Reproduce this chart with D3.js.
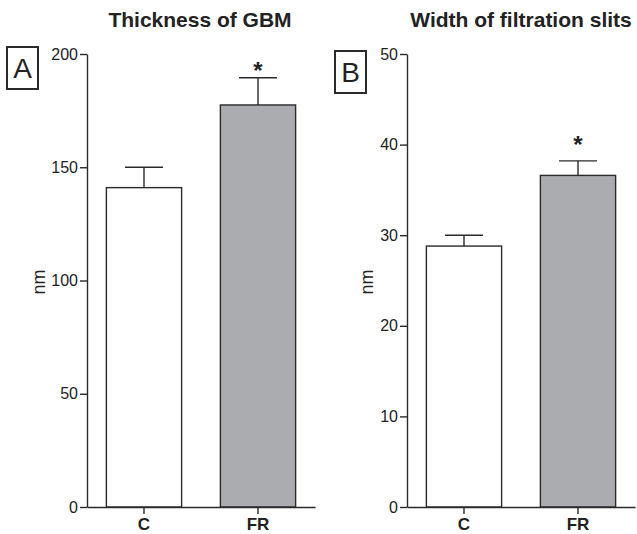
<!DOCTYPE html>
<html lang="en">
<head>
<meta charset="UTF-8">
<title>GBM and filtration slits</title>
<script src="https://cdnjs.cloudflare.com/ajax/libs/d3/7.9.0/d3.min.js"></script>
<style>
  body { margin: 0; background: #fff; }
  svg text { font-family: "Liberation Sans", Arial, Helvetica, sans-serif; fill: #222; }
</style>
</head>
<body>
<svg id="chart" width="637" height="534"></svg>
<script>
// data
const groups = ["C", "FR"];
const gbmMean = [141, 177.5];
const gbmSem = [9, 12];
const gbmTicks = [0, 50, 100, 150, 200];
const slitMean = [28.8, 36.6];
const slitSem = [1.2, 1.6];
const slitTicks = [0, 10, 20, 30, 40, 50];
const sig = [false, true];

const svg = d3.select("#chart");
const ink = "#2a2a2a";
const fills = ["#ffffff", "#abacb0"];

function panel(opt) {
  const g = svg.append("g");
  const y = d3.scaleLinear().domain([0, opt.max]).range([507, 54]);
  const x = d3.scaleBand().domain(groups).range([opt.x0, opt.x0 + 228])
    .paddingInner(0.34).paddingOuter(0.17);

  // title
  g.append("text").attr("x", opt.titleX).attr("y", 27)
    .attr("text-anchor", "middle").attr("font-size", 21).attr("font-weight", "bold")
    .text(opt.title);

  // panel letter box
  g.append("rect").attr("x", opt.boxX).attr("y", opt.boxY).attr("width", 31).attr("height", 42)
    .attr("fill", "none").attr("stroke", ink).attr("stroke-width", 2);
  g.append("text").attr("x", opt.boxX + 15.5).attr("y", opt.boxY + 31)
    .attr("text-anchor", "middle").attr("font-size", 28).text(opt.letter);

  // y axis
  const ya = g.append("g").attr("transform", `translate(${opt.x0},0)`)
    .call(d3.axisLeft(y).tickValues(opt.ticks).tickSize(7).tickPadding(2).tickSizeOuter(0));
  ya.select(".domain").attr("stroke", ink).attr("stroke-width", 1.4);
  ya.selectAll(".tick line").attr("stroke", ink).attr("stroke-width", 1.4);
  ya.selectAll(".tick text").attr("font-size", 16).attr("fill", ink)
    .style("font-family", "'Liberation Sans', Arial, sans-serif");

  // y label
  g.append("text").attr("transform", `translate(${opt.nmX},282) rotate(-90)`)
    .attr("text-anchor", "middle").attr("font-size", 18).text("nm");

  // bars
  g.selectAll("rect.bar").data(groups).enter().append("rect").attr("class", "bar")
    .attr("x", d => x(d)).attr("width", x.bandwidth())
    .attr("y", (d, i) => y(opt.mean[i]))
    .attr("height", (d, i) => y(0) - y(opt.mean[i]))
    .attr("fill", (d, i) => fills[i]).attr("stroke", ink).attr("stroke-width", 1.4);

  // error bars (upper only)
  groups.forEach((d, i) => {
    const cx = x(d) + x.bandwidth() / 2;
    const top = y(opt.mean[i] + opt.sem[i]);
    g.append("line").attr("x1", cx).attr("x2", cx)
      .attr("y1", y(opt.mean[i])).attr("y2", top).attr("stroke", ink).attr("stroke-width", 1.4);
    g.append("line").attr("x1", cx - 19).attr("x2", cx + 19)
      .attr("y1", top).attr("y2", top).attr("stroke", ink).attr("stroke-width", 1.4);
    if (sig[i]) {
      g.append("text").attr("x", cx).attr("y", top + opt.starOff)
        .attr("text-anchor", "middle").attr("font-size", 24).attr("font-weight", "bold").text("*");
    }
  });

  // x axis
  const xa = g.append("g").attr("transform", `translate(0,${y(0)})`)
    .call(d3.axisBottom(x).tickSize(7).tickPadding(4).tickSizeOuter(0));
  xa.select(".domain").attr("stroke", ink).attr("stroke-width", 1.4);
  xa.selectAll(".tick line").attr("stroke", ink).attr("stroke-width", 1.4);
  xa.selectAll(".tick text").attr("font-size", 17).attr("font-weight", "bold").attr("fill", ink)
    .style("font-family", "'Liberation Sans', Arial, sans-serif");
}

panel({ x0: 87, max: 200, ticks: gbmTicks, mean: gbmMean, sem: gbmSem, starOff: 1,
  title: "Thickness of GBM", titleX: 200, letter: "A", boxX: 7, boxY: 47, nmX: 45 });
panel({ x0: 407, max: 50, ticks: slitTicks, mean: slitMean, sem: slitSem, starOff: -8,
  title: "Width of filtration slits", titleX: 521, letter: "B", boxX: 335, boxY: 51, nmX: 373 });
</script>
</body>
</html>
